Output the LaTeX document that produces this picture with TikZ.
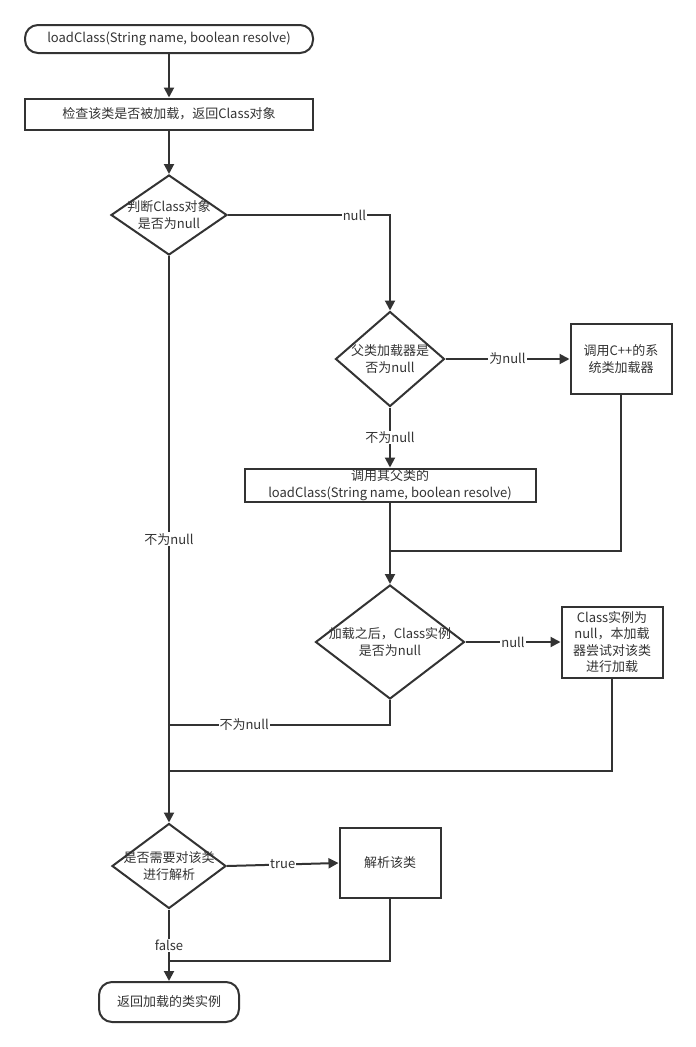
\documentclass[tikz,border=0pt]{standalone}
\usepackage{fontspec}
\setmainfont{Noto Sans CJK SC}
\usetikzlibrary{shapes.geometric,arrows.meta}
\definecolor{ink}{RGB}{51,51,51}

\tikzset{
  txt/.style={text=ink, font=\fontsize{13}{16.5}\selectfont, align=center},
  base/.style={txt, draw=ink, line width=2pt, inner sep=0pt},
  term/.style={base, rectangle, rounded corners=13pt},
  proc/.style={base, rectangle},
  decide/.style={base, diamond},
  flow/.style={draw=ink, line width=2pt, -{Triangle[length=10pt,width=10pt]}},
  line/.style={draw=ink, line width=2pt},
  lbl/.style={txt, fill=white, inner sep=1pt}
}

\begin{document}
\begin{tikzpicture}[x=1pt,y=-1pt]
  \useasboundingbox (0,0) rectangle (696,1047);

  % main column
  \node[term, minimum width=288pt, minimum height=28pt] (start) at (169,39)
    {loadClass(String name, boolean resolve)};
  \node[proc, minimum width=288pt, minimum height=31pt] (check) at (169,114)
    {检查该类是否被加载，返回Class对象};
  \node[decide, minimum width=116pt, minimum height=80pt,
    label={[txt]center:{判断Class对象\\是否为null}}] (isnull) at (169,215) {};

  % parent loader branch
  \node[decide, minimum width=109pt, minimum height=95pt,
    label={[txt]center:{父类加载器是\\否为null}}] (parentnull) at (390,359) {};
  \node[proc, minimum width=101pt, minimum height=70pt] (sysload) at (621,359)
    {调用C++的系\\统类加载器};
  \node[proc, minimum width=291pt, minimum height=33pt] (parentload) at (390,485)
    {调用其父类的\\loadClass(String name, boolean resolve)};
  \node[decide, minimum width=149pt, minimum height=114pt,
    label={[txt]center:{加载之后，Class实例\\是否为null}}] (afterload) at (390,642) {};
  \node[proc, minimum width=101pt, minimum height=71pt] (selfload) at (612,642)
    {Class实例为\\null，本加载\\器尝试对该类\\进行加载};

  % resolve
  \node[decide, minimum width=114pt, minimum height=85pt,
    label={[txt]center:{是否需要对该类\\进行解析}}] (needres) at (169,866) {};
  \node[proc, minimum width=101pt, minimum height=70pt] (resolve) at (390,863)
    {解析该类};
  \node[term, minimum width=140pt, minimum height=40pt] (result) at (169,1002)
    {返回加载的类实例};

  % join points
  \coordinate (j1) at (390,551);
  \coordinate (j2) at (169,725);
  \coordinate (j3) at (169,771);
  \coordinate (j4) at (169,961);

  % connectors
  \draw[flow] (start) -- (check);
  \draw[flow] (check) -- (isnull);
  \draw[flow] (isnull.east) -| node[lbl, pos=0.39] {null} (parentnull.north);
  \draw[flow] (parentnull.east) -- node[lbl] {为null} (sysload.west);
  \draw[flow] (parentnull.south) -- node[lbl] {不为null} (parentload.north);
  \draw[flow] (parentload.south) -- (afterload.north);
  \draw[line] (sysload.south) |- (j1);
  \draw[flow] (afterload.east) -- node[lbl] {null} (selfload.west);
  \draw[line] (afterload.south) |- node[lbl, pos=0.83] {不为null} (j2);
  \draw[line] (selfload.south) |- (j3);
  \draw[flow] (isnull.south) -- node[lbl] {不为null} (needres.north);
  \draw[flow] (needres.east) -- node[lbl] {true} (resolve.west);
  \draw[flow] (needres.south) -- node[lbl] {false} (result.north);
  \draw[line] (resolve.south) |- (j4);
\end{tikzpicture}
\end{document}
